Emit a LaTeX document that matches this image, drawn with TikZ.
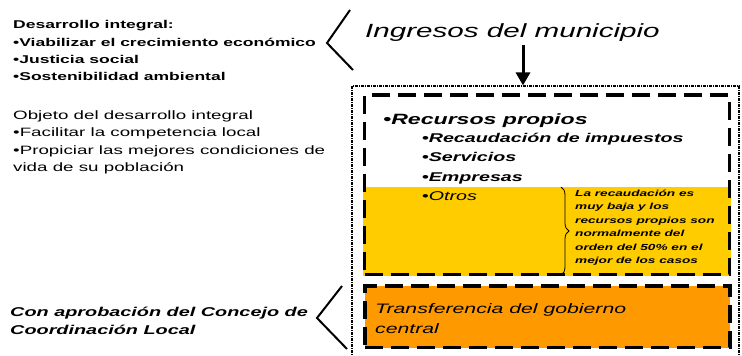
\documentclass[tikz,border=0pt]{standalone}
\usepackage{fontspec}
\setmainfont{Liberation Sans}
\usepackage{graphicx}
\usetikzlibrary{decorations.pathreplacing,arrows.meta}
\definecolor{yel}{HTML}{FFCC00}
\definecolor{org}{HTML}{FF9900}
\newcommand\sx[1]{\scalebox{1.55}[1]{#1}}
\newcommand\fsz[1]{\fontsize{#1}{#1}\selectfont}
\begin{document}
\begin{tikzpicture}[x=1pt,y=-1pt,
  txt/.style={anchor=base west,inner sep=0pt},
  thickdash/.style={line width=3.5pt,dash pattern=on 18pt off 8pt},
  thinbox/.style={draw,line width=1.1pt,dash pattern=on 3pt off 1pt on 1pt off 1pt,inner sep=0pt},
  brk/.style={line width=2pt}]
\useasboundingbox[fill=white] (0,0) rectangle (742,356);
% left texts
\node[txt,font=\fsz{11.3}\bfseries] (l1) at (13,28) {\sx{Desarrollo integral:}};
\node[txt,font=\fsz{11.3}\bfseries] (l2) at (13,46) {\sx{•Viabilizar el crecimiento económico}};
\node[txt,font=\fsz{11.3}\bfseries] (l3) at (13,63) {\sx{•Justicia social}};
\node[txt,font=\fsz{11.3}\bfseries] (l4) at (13,80) {\sx{•Sostenibilidad ambiental}};
\node[txt,font=\fsz{12.1}] (l5) at (13,119) {\sx{Objeto del desarrollo integral}};
\node[txt,font=\fsz{12.1}] (l6) at (13,136.5) {\sx{•Facilitar la competencia local}};
\node[txt,font=\fsz{12.1}] (l7) at (13,154) {\sx{•Propiciar las mejores condiciones de}};
\node[txt,font=\fsz{12.1}] (l8) at (13,171) {\sx{vida de su población}};
\node[txt,font=\fsz{12.8}\bfseries\itshape] (c1) at (10,316) {\sx{Con aprobación del Concejo de}};
\node[txt,font=\fsz{12.8}\bfseries\itshape] (c2) at (10,334) {\sx{Coordinación Local}};
% brackets
\draw[brk] (350,10) -- (327,43) -- (353,70);
\draw[brk] (342,286) -- (317,318) -- (347,349);
% title
\node[txt,font=\fsz{19.1}\itshape] (ing) at (365,37) {\sx{Ingresos del municipio}};
% outer box
\node[thinbox,minimum width=387pt,minimum height=276pt] (outer) at (545.5,224) {};
\coordinate (astart) at (523,45);
\draw[line width=3pt,-{Triangle[width=14pt,length=13pt]}] (astart) -- (astart |- outer.north);
% yellow part
\fill[yel] (363,187) rectangle (731,276);
\node[draw,thickdash,minimum width=365pt,minimum height=179.5pt,inner sep=0pt] (own) at (547,184.75) {};
% orange box
\node[draw,thickdash,fill=org,minimum width=365pt,minimum height=61.5pt,inner sep=0pt] (trans) at (547.5,316.75) {};
% texts in box
\node[txt,font=\fsz{14.9}\bfseries\itshape] (r0) at (383,124) {\sx{•Recursos propios}};
\node[txt,font=\fsz{12.7}\bfseries\itshape] (r1) at (421.7,142.7) {\sx{•Recaudación de impuestos}};
\node[txt,font=\fsz{12.7}\bfseries\itshape] (r2) at (421.7,161.7) {\sx{•Servicios}};
\node[txt,font=\fsz{12.7}\bfseries\itshape] (r3) at (421.7,181) {\sx{•Empresas}};
\node[txt,font=\fsz{12.7}\itshape] (r4) at (421.7,200.7) {\sx{•Otros}};
\node[txt,font=\fsz{13.7}\itshape] (t1) at (375,313) {\sx{Transferencia del gobierno}};
\node[txt,font=\fsz{13.7}\itshape] (t2) at (375,333) {\sx{central}};
% brace
\coordinate (bt) at (561,187);
\coordinate (bb) at (561,275);
\draw[line width=0.8pt,decorate,decoration={brace,amplitude=8pt}] (bt) -- (bb);
\node[txt,font=\fsz{8.8}\bfseries\itshape] (n1) at (575,196) {\sx{La recaudación es}};
\node[txt,font=\fsz{8.8}\bfseries\itshape] (n2) at (575,209.5) {\sx{muy baja y los}};
\node[txt,font=\fsz{8.8}\bfseries\itshape] (n3) at (575,223) {\sx{recursos propios son}};
\node[txt,font=\fsz{8.8}\bfseries\itshape] (n4) at (575,236.5) {\sx{normalmente del}};
\node[txt,font=\fsz{8.8}\bfseries\itshape] (n5) at (575,250) {\sx{orden del 50\% en el}};
\node[txt,font=\fsz{8.8}\bfseries\itshape] (n6) at (575,263.5) {\sx{mejor de los casos}};
\end{tikzpicture}
\end{document}
